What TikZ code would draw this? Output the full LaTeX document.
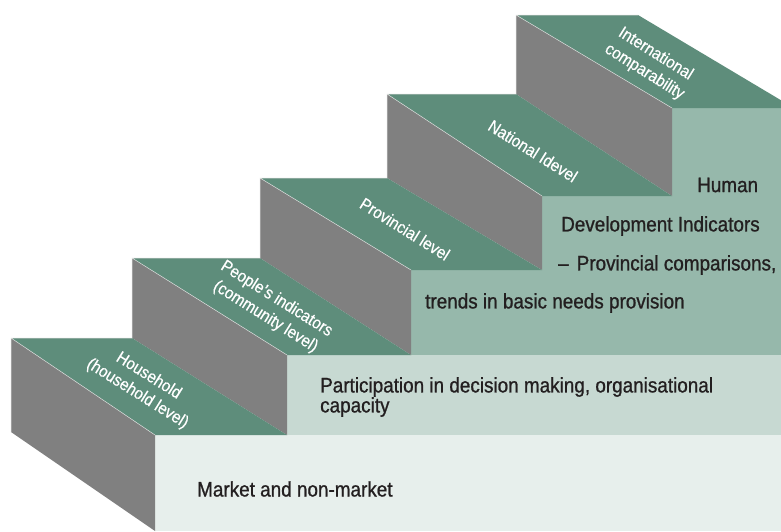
\documentclass[tikz,border=0pt]{standalone}
\usepackage{fontspec}
\setmainfont{Liberation Sans}[FakeStretch=0.9]
\newfontfamily\frontfont{Liberation Sans}[FakeStretch=0.9,FakeBold=0.9]
\newfontfamily\labelfont{Liberation Sans}[FakeStretch=0.9,FakeBold=0.5]
\usetikzlibrary{positioning}
\definecolor{sidegrey}{HTML}{808080}
\definecolor{topgreen}{HTML}{5E8D7B}
\definecolor{frontA}{HTML}{E7EFEC}
\definecolor{frontB}{HTML}{C7D9D2}
\definecolor{frontC}{HTML}{96B8AB}
\definecolor{textblack}{HTML}{231F20}

\begin{document}
\begin{tikzpicture}[x=1pt,y=-1pt]
\tikzstyle{sideface} = [fill=sidegrey]
\tikzstyle{topface} = [fill=topgreen]
\tikzstyle{edgeline} = [draw=white!72!gray,line width=0.5pt]
\tikzstyle{lbl} = [text=white,font=\labelfont\fontsize{17}{21}\selectfont,align=center,rotate=-32]
\tikzstyle{txt} = [text=textblack,font=\frontfont\fontsize{21}{20}\selectfont,anchor=west,inner sep=0pt]
\useasboundingbox (0,0) rectangle (781,531);
\clip (0,0) rectangle (781,531);
% front faces
\fill[frontA] (155,435) rectangle (781,531);
\fill[frontB] (287,355) rectangle (781,435);
\fill[frontC] (411,270) rectangle (781,355);
\fill[frontC] (542,196) rectangle (781,270);
\fill[frontC] (672,108) rectangle (781,196);
% side faces
\fill[sideface] (11,338) -- (155,435) -- (155,531) -- (11,432) -- cycle;
\fill[sideface] (132,258) -- (287,355) -- (287,435) -- (132,338) -- cycle;
\fill[sideface] (260,178) -- (411,270) -- (411,355) -- (260,258) -- cycle;
\fill[sideface] (387,94) -- (542,196) -- (542,270) -- (387,178) -- cycle;
\fill[sideface] (516,15) -- (672,108) -- (672,196) -- (516,94) -- cycle;
% top faces
\fill[topface] (11,338) -- (132,338) -- (287,435) -- (155,435) -- cycle;
\fill[topface] (132,258) -- (260,258) -- (411,355) -- (287,355) -- cycle;
\fill[topface] (260,178) -- (387,178) -- (542,270) -- (411,270) -- cycle;
\fill[topface] (387,94) -- (516,94) -- (672,196) -- (542,196) -- cycle;
\fill[topface] (516,15) -- (638,15) -- (794,108) -- (672,108) -- cycle;
% light edges
\draw[edgeline] (11,432) -- (11,338) -- (132,338) (11,338) -- (155,435);
\draw[edgeline] (132,338) -- (132,258) -- (260,258) (132,258) -- (287,355);
\draw[edgeline] (260,258) -- (260,178) -- (387,178) (260,178) -- (411,270);
\draw[edgeline] (387,178) -- (387,94) -- (516,94) (387,94) -- (542,196);
\draw[edgeline] (516,94) -- (516,15) -- (638,15) (516,15) -- (672,108);
% step labels
\node[lbl] (household) at (143,385) {Household\\(household level)};
\node[lbl] (people) at (271,308) {People’s indicators\\(community level)};
\node[lbl] (provincial) at (405,229) {Provincial level};
\node[lbl] (national) at (533,151) {National Idevel};
\node[lbl] (intl) at (650,63) {International\\comparability};
% front texts
\node[txt] (market) at (197,489) {Market and non-market};
\node[txt,align=left] (particip) at (320,397) {Participation in decision making, organisational\\capacity};
\node[txt] (human) at (697,185) {Human};
\node[txt] (hdi) at (561,226) {Development Indicators};
\node[txt] (provcomp) at (558,265) {–\hspace{8pt}Provincial comparisons,};
\node[txt] (trends) at (425,303) {trends in basic needs provision};
\end{tikzpicture}
\end{document}
